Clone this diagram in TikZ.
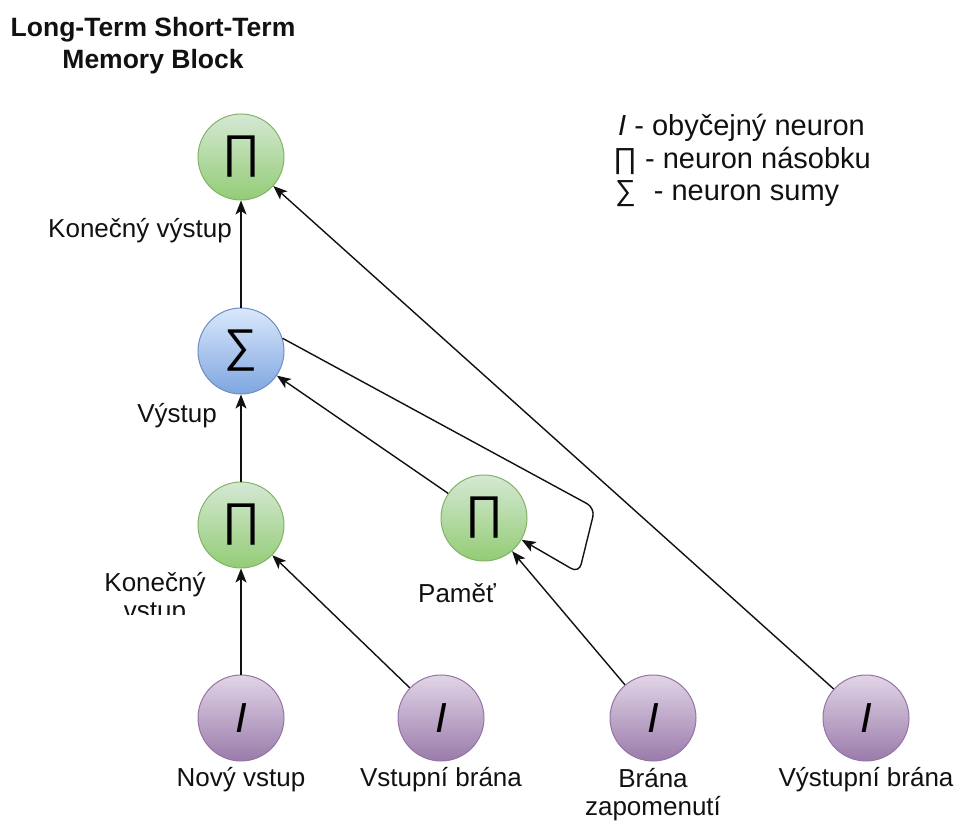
\documentclass[tikz,border=0pt]{standalone}
\usepackage{fontspec}
\setmainfont{Liberation Sans}
\usetikzlibrary{arrows.meta,shadings}

\definecolor{greentop}{HTML}{D5E8D4}
\definecolor{greenbot}{HTML}{93CC75}
\definecolor{greenline}{HTML}{82B366}
\definecolor{bluetop}{HTML}{DAE8FC}
\definecolor{bluebot}{HTML}{7EA6E0}
\definecolor{blueline}{HTML}{6C8EBF}
\definecolor{purpletop}{HTML}{E1D5E7}
\definecolor{purplebot}{HTML}{9A7BAA}
\definecolor{purpleline}{HTML}{9673A6}
\definecolor{ink}{HTML}{111111}

\newcommand{\lblfont}{\fontsize{26}{28}\selectfont}
\newcommand{\legfont}{\fontsize{29}{33}\selectfont}
\newcommand{\titlefont}{\fontsize{26.5}{32}\selectfont\bfseries}
\newcommand{\symfont}{\fontsize{46}{46}\selectfont}
\newcommand{\slashfont}{\fontsize{42}{42}\selectfont\itshape}

\begin{document}
\begin{tikzpicture}[x=1pt,y=-1pt,
  neuron/.style={circle, minimum size=86pt, inner sep=0pt, line width=1pt},
  mulnode/.style={neuron, draw=greenline, top color=greentop, bottom color=greenbot, font=\symfont},
  sumnode/.style={neuron, draw=blueline, top color=bluetop, bottom color=bluebot, font=\symfont},
  innode/.style={neuron, draw=purpleline, top color=purpletop, bottom color=purplebot, font=\slashfont},
  lbl/.style={font=\lblfont, align=center, inner sep=0pt, text=ink},
  legendline/.style={font=\legfont, anchor=west, inner sep=0pt, text=ink},
  link/.style={draw=ink, line width=1.4pt, -{Stealth[length=14pt,width=11pt,inset=3.5pt]}}
]
\useasboundingbox (0,0) rectangle (958,824);

% title
\node[font=\titlefont, align=center, inner sep=0pt, text=ink] (title) at (153,46)
  {Long-Term Short-Term\\Memory Block};

% legend
\node[legendline] (leg1) at (618,128) {\textit{I} - obyčejný neuron};
\node[legendline] (leg2) at (613,161) {∏ - neuron násobku};
\node[legendline] (leg3) at (615,194) {∑\hspace{18pt}- neuron sumy};

% neurons
\node[mulnode] (out) at (241,157) {∏};
\node[sumnode] (sig) at (241,351) {∑};
\node[mulnode] (inp) at (241,525) {∏};
\node[mulnode] (mem) at (484,518) {∏};

\node[innode] (new) at (241,718) {I};
\node[innode] (ing) at (441,718) {I};
\node[innode] (fgt) at (653,718) {I};
\node[innode] (outg) at (866,718) {I};

% labels
\node[lbl] (lfin) at (140,231) {Konečný výstup};
\node[lbl] (lsum) at (177,416) {Výstup};
\begin{scope}
  \clip (60,560) rectangle (238,614);
  \node[lbl] (linp) at (155,599) {Konečný\\vstup};
\end{scope}
\node[lbl] (lmem) at (457,593) {Paměť};
\node[lbl] (lnew) at (241,780) {Nový vstup};
\node[lbl] (ling) at (441,780) {Vstupní brána};
\node[lbl] (lfgt) at (653,795) {Brána\\zapomenutí};
\node[lbl] (loutg) at (866,780) {Výstupní brána};

% connectors
\draw[link] (sig) -- (out);
\draw[link] (inp) -- (sig);
\draw[link] (new) -- (inp);
\draw[link] (ing) -- (inp);
\draw[link] (mem) -- (sig);
\draw[link] (fgt) -- (mem);
\draw[link] (outg) -- (out);

% memory feedback loop
\coordinate (loopa) at (595,508);
\coordinate (loopb) at (579,573);
\draw[link, rounded corners=9pt] (sig.17) -- (loopa) -- (loopb) -- (mem);
\end{tikzpicture}
\end{document}
